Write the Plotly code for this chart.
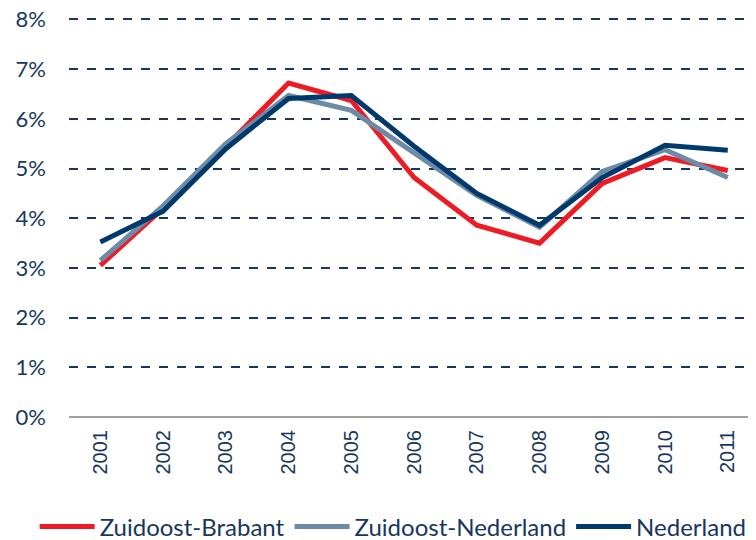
import plotly.graph_objects as go

years = ["2001", "2002", "2003", "2004", "2005", "2006", "2007", "2008", "2009", "2010", "2011"]
zuidoost_brabant = [3.05, 4.2, 5.45, 6.72, 6.37, 4.82, 3.86, 3.5, 4.7, 5.22, 4.96]
zuidoost_nederland = [3.15, 4.25, 5.5, 6.47, 6.17, 5.3, 4.46, 3.82, 4.94, 5.38, 4.82]
nederland = [3.52, 4.14, 5.4, 6.41, 6.47, 5.45, 4.5, 3.86, 4.82, 5.47, 5.37]
y_ticks = [0, 1, 2, 3, 4, 5, 6, 7, 8]
y_tick_labels = ["0%", "1%", "2%", "3%", "4%", "5%", "6%", "7%", "8%"]

navy_text = "#17375E"
series = [
    ("Zuidoost-Brabant", zuidoost_brabant, "#ED1C24"),
    ("Zuidoost-Nederland", zuidoost_nederland, "#6D8AA6"),
    ("Nederland", nederland, "#003A6C"),
]

fig = go.Figure()
for name, vals, col in series:
    fig.add_trace(go.Scatter(x=years, y=vals, mode="lines", name=name,
                             line=dict(color=col, width=5)))

fig.update_layout(
    width=748, height=532,
    margin=dict(l=61, r=0, t=9, b=123, autoexpand=False),
    plot_bgcolor="white", paper_bgcolor="white",
    font=dict(family="Lato, Liberation Sans, sans-serif", color=navy_text, size=22),
    showlegend=True,
    legend=dict(orientation="h", x=-0.05, xanchor="left", y=-0.275, yanchor="middle",
                font=dict(size=24, color=navy_text), tracegroupgap=0, itemwidth=55,
                traceorder="normal"),
    xaxis=dict(type="category", range=[-0.5, 10.45], showgrid=False, automargin=False,
               tickangle=-90, ticks="", ticklabelstandoff=8,
               tickfont=dict(family="Liberation Sans, Arial, sans-serif", size=20, color=navy_text),
               showline=False, zeroline=False),
    yaxis=dict(range=[0, 8.05], tickvals=y_ticks, ticktext=y_tick_labels, automargin=False,
               ticklabeloverflow="allow",
               showgrid=True, gridcolor="#17375E", griddash="dash", gridwidth=1.5,
               zeroline=True, zerolinecolor="#A0A0A0", zerolinewidth=2,
               ticks="", ticklabelstandoff=22, tickfont=dict(size=22, color=navy_text)),
)

fig.write_html("out.html")
